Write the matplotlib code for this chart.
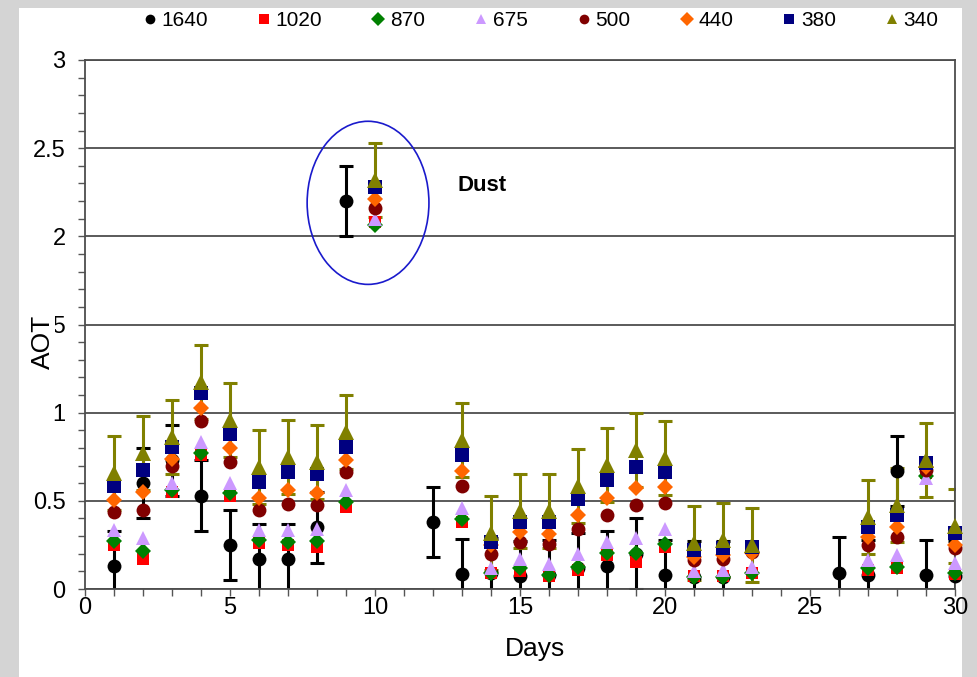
import matplotlib
matplotlib.use('Agg')

import numpy as np
import matplotlib.pyplot as plt
from matplotlib.patches import Ellipse, Rectangle
from matplotlib.lines import Line2D
from matplotlib.ticker import MultipleLocator

plt.rcParams['font.family'] = ['Liberation Sans Narrow', 'Liberation Sans', 'DejaVu Sans']

# =========================
# DATA
# =========================
days = list(range(1, 31))

aot_1640 = [0.13, 0.60, 0.73, 0.53, 0.25, 0.17, 0.17, 0.35, 2.20, None,
            None, 0.38, 0.085, 0.09, 0.075, 0.08, 0.12, 0.13, 0.20, 0.08,
            0.07, 0.07, None, None, None, 0.093, 0.08, 0.67, 0.08, 0.075]
aot_1020 = [0.25, 0.17, 0.55, 0.76, 0.53, 0.26, 0.25, 0.24, 0.465, 2.08,
            None, None, 0.38, 0.09, 0.10, 0.075, 0.11, 0.19, 0.155, 0.24,
            0.075, 0.075, 0.09, None, None, None, 0.11, 0.12, 0.66, 0.085]
aot_870 = [0.27, 0.215, 0.56, 0.77, 0.543, 0.28, 0.268, 0.274, 0.495, 2.063,
           None, None, 0.395, 0.09, 0.117, 0.079, 0.127, 0.206, 0.206, 0.255,
           0.07, 0.07, 0.089, None, None, None, 0.117, 0.123, 0.64, 0.093]
aot_675 = [0.334, 0.287, 0.60, 0.835, 0.60, 0.334, 0.334, 0.338, 0.56, 2.096,
           None, None, 0.457, 0.117, 0.168, 0.142, 0.198, 0.268, 0.287, 0.338,
           0.104, 0.108, 0.123, None, None, None, 0.164, 0.193, 0.627, 0.146]
aot_500 = [0.438, 0.45, 0.70, 0.954, 0.722, 0.45, 0.482, 0.476, 0.665, 2.158,
           None, None, 0.584, 0.198, 0.268, 0.255, 0.338, 0.42, 0.476, 0.489,
           0.164, 0.168, 0.21, None, None, None, 0.249, 0.297, 0.675, 0.23]
aot_440 = [0.505, 0.55, 0.74, 1.024, 0.797, 0.514, 0.56, 0.546, 0.73, 2.21,
           None, None, 0.67, 0.25, 0.325, 0.312, 0.42, 0.514, 0.571, 0.58,
           0.183, 0.193, 0.202, None, None, None, 0.297, 0.353, 0.693, 0.249]
aot_380 = [0.584, 0.675, 0.807, 1.11, 0.879, 0.608, 0.665, 0.652, 0.807, 2.28,
           None, None, 0.76, 0.268, 0.382, 0.382, 0.508, 0.618, 0.693, 0.665,
           0.221, 0.23, 0.24, None, None, None, 0.353, 0.42, 0.716, 0.316]
aot_340 = [0.656, 0.77, 0.863, 1.175, 0.958, 0.693, 0.75, 0.722, 0.89, 2.318,
           None, None, 0.845, 0.316, 0.444, 0.444, 0.584, 0.703, 0.788, 0.741,
           0.259, 0.278, 0.249, None, None, None, 0.41, 0.476, 0.731, 0.357]

err_1640 = 0.2
err_340 = 0.21

wavelengths = ["1640", "1020", "870", "675", "500", "440", "380", "340"]
series = [aot_1640, aot_1020, aot_870, aot_675, aot_500, aot_440, aot_380, aot_340]
colors = ["#000000", "#ff0000", "#008000", "#cc99ff", "#800000", "#ff6600", "#000080", "#808000"]
markers = ["o", "s", "D", "^", "o", "D", "s", "^"]
msizes = [10, 8.5, 8, 10.5, 10, 8.5, 9.5, 11]

y_ticks = [0, 0.5, 1, 1.5, 2, 2.5, 3]
y_labels = ["0", "0.5", "1", "1.5", "2", "2.5", "3"]
x_ticks = [0, 5, 10, 15, 20, 25, 30]

# =========================
# FIGURE
# =========================
fig = plt.figure(figsize=(9.77, 6.77), dpi=100, facecolor="#d4d4d4")
fig.patches.append(Rectangle((19 / 977, 0), (962 - 19) / 977, (677 - 8) / 677,
                             transform=fig.transFigure, facecolor="white",
                             edgecolor="none", zorder=-1))

ax = fig.add_axes([85 / 977, 1 - 589 / 677, 870 / 977, 529 / 677])
ax.set_facecolor("white")

x = np.array(days, dtype=float)

# error bars (behind markers)
for vals, err, col in [(aot_1640, err_1640, "#000000"), (aot_340, err_340, "#808000")]:
    y = np.array([np.nan if v is None else v for v in vals], dtype=float)
    ax.errorbar(x, y, yerr=err, fmt="none", ecolor=col, elinewidth=2.2,
                capsize=5, capthick=2.2, zorder=2)

for vals, col, mk, ms in zip(series, colors, markers, msizes):
    y = np.array([np.nan if v is None else v for v in vals], dtype=float)
    ax.plot(x, y, linestyle="none", marker=mk, color=col, markersize=ms,
            markeredgewidth=0, zorder=3, clip_on=False)

# dust circle
ax.add_patch(Ellipse((9.76, 2.19), 4.2, 0.925, fill=False,
                     edgecolor="#1a1acc", linewidth=1.2, zorder=4))
ax.text(12.85, 2.29, "Dust", fontsize=16, fontweight="bold",
        family=["Liberation Sans", "DejaVu Sans"], va="center", ha="left")

# axes style
ax.set_xlim(0, 30)
ax.set_ylim(0, 3)
ax.set_xticks(x_ticks)
ax.xaxis.set_minor_locator(MultipleLocator(1))
ax.set_yticks(y_ticks)
ax.set_yticklabels(y_labels)
ax.yaxis.set_minor_locator(MultipleLocator(0.1))
ax.tick_params(axis="x", which="both", direction="out", length=5, width=1,
               color="#555555", labelsize=17, pad=1)
ax.tick_params(axis="y", which="both", direction="out", length=5, width=1,
               color="#555555", labelsize=17, pad=9)
ax.grid(axis="y", which="major", color="#4d4d4d", linewidth=1.3)
ax.set_axisbelow(True)
for side in ["left", "right", "top", "bottom"]:
    ax.spines[side].set_color("#4d4d4d")
    ax.spines[side].set_linewidth(1.3)

ax.set_xlabel("Days", fontsize=19)
ax.xaxis.set_label_coords((535 - 85) / 870, (589 - 637) / 529)
ax.set_ylabel("AOT", fontsize=19,
              bbox=dict(facecolor="white", edgecolor="none", pad=0))
ax.yaxis.set_label_coords((55 - 85) / 870, (589 - 342) / 529)

# legend
handles = [Line2D([], [], linestyle="none", marker=mk, color=col, markersize=7,
                  markeredgewidth=0) for col, mk in zip(colors, markers)]
fig.legend(handles, wavelengths, loc="center", bbox_to_anchor=(540 / 977, 1 - 21 / 677),
           ncol=8, frameon=False, fontsize=15, handlelength=0.8,
           handletextpad=0.15, columnspacing=2.3)

fig.savefig("out.png", dpi=100, facecolor=fig.get_facecolor())
